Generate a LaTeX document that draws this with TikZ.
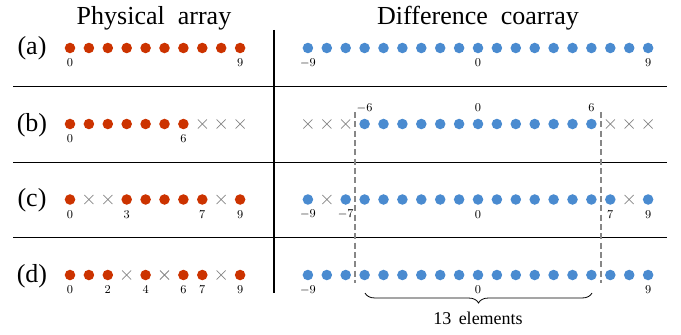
\documentclass[tikz,border=0pt]{standalone}
\usepackage{fontspec}
\setmainfont{Liberation Serif}
\usetikzlibrary{decorations.pathreplacing,shapes.misc}

\definecolor{physred}{RGB}{204,51,0}
\definecolor{coblue}{RGB}{74,139,208}
\definecolor{holegray}{RGB}{135,135,135}

\tikzset{
  pdot/.style={circle, fill=physred, inner sep=0pt, minimum size=7.9pt},
  cdot/.style={circle, fill=coblue, inner sep=0pt, minimum size=7.9pt},
  hole/.style={cross out, draw=holegray, line width=0.55pt, inner sep=0pt, minimum size=6.2pt},
  idx/.style={font=\fontsize{9.5}{11}\selectfont, inner sep=0pt},
  bigtext/.style={font=\fontsize{19.5}{22}\selectfont, inner sep=0pt},
  rowlabel/.style={bigtext, anchor=base},
  rule/.style={line width=1pt, black},
  guide/.style={line width=1.1pt, holegray, dash pattern=on 4.5pt off 2.5pt},
}

\begin{document}
\begin{tikzpicture}[x=0.75pt, y=-0.75pt]
\useasboundingbox (0,0) rectangle (681,335);

% column headings
\node[bigtext, anchor=base] (head-phys) at (154,25) {Physical\ \ array};
\node[bigtext, anchor=base] (head-co) at (478,25) {Difference\ \ coarray};

% table rules
\coordinate (h1l) at (13,86.7);  \coordinate (h1r) at (667,86.7);
\coordinate (h2l) at (13,162.3); \coordinate (h2r) at (667,162.3);
\coordinate (h3l) at (13,237.3); \coordinate (h3r) at (667,237.3);
\coordinate (vt) at (274,30);    \coordinate (vb) at (274,293);
\draw[rule] (h1l) -- (h1r);
\draw[rule] (h2l) -- (h2r);
\draw[rule] (h3l) -- (h3r);
\draw[rule] (vt) -- (vb);

% row labels
\node[rowlabel] (lab-a) at (32,55)    {(a)};
\node[rowlabel] (lab-b) at (32,131)   {(b)};
\node[rowlabel] (lab-c) at (32,206.5) {(c)};
\node[rowlabel] (lab-d) at (32,282)   {(d)};

% ---------- physical arrays (sensor at 70 + 18.9 i) ----------
% (a)
\foreach \i in {0,...,9} \node[pdot] (p-a-\i) at (70+18.9*\i,48) {};
% (b)
\foreach \i in {0,...,6} \node[pdot] (p-b-\i) at (70+18.9*\i,124) {};
\foreach \i in {7,8,9}   \node[hole] (p-b-\i) at (70+18.9*\i,124) {};
% (c)
\foreach \i in {0,3,4,5,6,7,9} \node[pdot] (p-c-\i) at (70+18.9*\i,199.5) {};
\foreach \i in {1,2,8}         \node[hole] (p-c-\i) at (70+18.9*\i,199.5) {};
% (d)
\foreach \i in {0,1,2,4,6,7,9} \node[pdot] (p-d-\i) at (70+18.9*\i,275) {};
\foreach \i in {3,5,8}         \node[hole] (p-d-\i) at (70+18.9*\i,275) {};

% sensor indices
\foreach \i in {0,9}       \path (p-a-\i) ++(0,15) node[idx] (pl-a-\i) {$\i$};
\foreach \i in {0,6}       \path (p-b-\i) ++(0,15) node[idx] (pl-b-\i) {$\i$};
\foreach \i in {0,3,7,9}   \path (p-c-\i) ++(0,15) node[idx] (pl-c-\i) {$\i$};
\foreach \i in {0,2,4,6,7,9} \path (p-d-\i) ++(0,15) node[idx] (pl-d-\i) {$\i$};

% ---------- difference coarrays (lag at 478 + 18.9 k) ----------
% (a)
\foreach \k in {-9,...,9} \node[cdot] (c-a-\k) at (478+18.9*\k,48) {};
% (b)
\foreach \k in {-6,...,6}        \node[cdot] (c-b-\k) at (478+18.9*\k,124) {};
\foreach \k in {-9,-8,-7,7,8,9}  \node[hole] (c-b-\k) at (478+18.9*\k,124) {};
% (c)
\foreach \k in {-9,-7,-6,...,7,9} \node[cdot] (c-c-\k) at (478+18.9*\k,199.5) {};
\foreach \k in {-8,8}             \node[hole] (c-c-\k) at (478+18.9*\k,199.5) {};
% (d)
\foreach \k in {-9,...,9} \node[cdot] (c-d-\k) at (478+18.9*\k,275) {};

% lag indices
\foreach \k in {-9,0,9}      \path (c-a-\k) ++(0,15)  node[idx] (cl-a-\k) {$\k$};
\foreach \k in {-6,0,6}      \path (c-b-\k) ++(0,-16) node[idx] (cl-b-\k) {$\k$};
\foreach \k in {-9,-7,0,7,9} \path (c-c-\k) ++(0,15)  node[idx] (cl-c-\k) {$\k$};
\foreach \k in {-9,0,9}      \path (c-d-\k) ++(0,15)  node[idx] (cl-d-\k) {$\k$};

% central contiguous segment bounds
\coordinate (gl-top) at (355,112);   \coordinate (gl-bot) at (355,283);
\coordinate (gr-top) at (601,112);   \coordinate (gr-bot) at (601,283);
\draw[guide] (gl-top) -- (gl-bot);
\draw[guide] (gr-top) -- (gr-bot);

% brace under the segment
\coordinate (br-l) at (365,293);
\coordinate (br-r) at (592,293);
\draw[line width=0.6pt, decorate, decoration={brace, mirror, amplitude=7.5pt}] (br-l) -- (br-r);
\node[font=\fontsize{13.5}{16}\selectfont, inner sep=0pt] (count) at (478,318) {13\ \,elements};
\end{tikzpicture}
\end{document}
